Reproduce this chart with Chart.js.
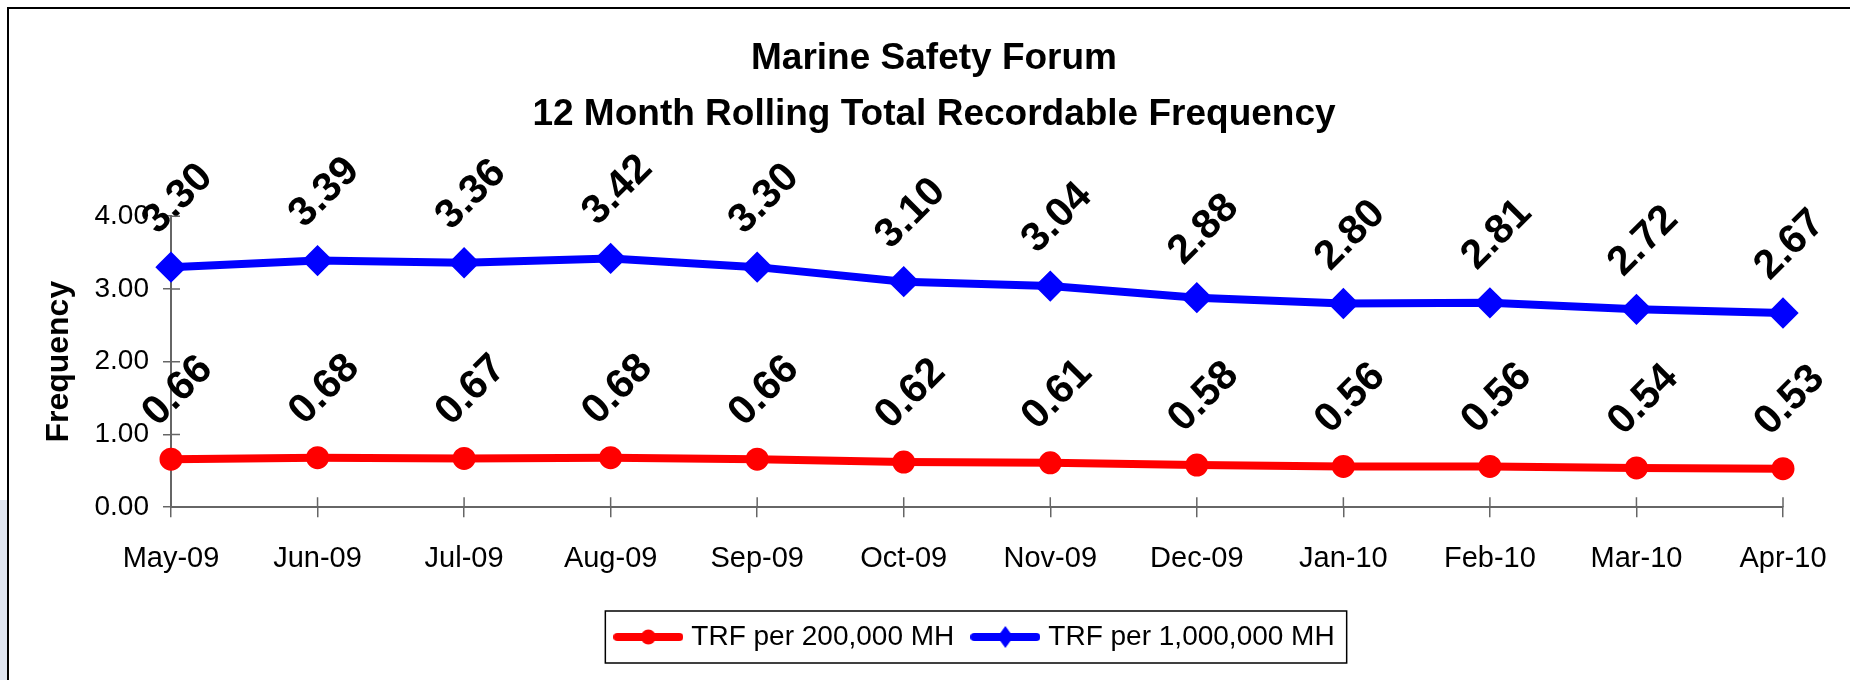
<!DOCTYPE html>
<html>
<head>
<meta charset="utf-8">
<script src="https://cdn.jsdelivr.net/npm/chart.js@4.4.1/dist/chart.umd.min.js"></script>
<style>
  body { margin: 0; background: #fff; }
  #wrap { position: relative; width: 1854px; height: 680px; overflow: hidden; }
  #frame { position: absolute; left: 7px; top: 7px; width: 1843px; height: 700px;
           border-top: 2px solid #000; border-left: 2px solid #000; box-sizing: border-box; }
  #shade { position: absolute; left: 0; top: 500px; width: 7px; height: 180px; background: #dfe5f0; }
  canvas { position: absolute; left: 0; top: 0; }
</style>
</head>
<body>
<div id="wrap">
  <div id="shade"></div>
  <div id="frame"></div>
  <canvas id="chart" width="1854" height="680"></canvas>
</div>
<script>
const months = ['May-09', 'Jun-09', 'Jul-09', 'Aug-09', 'Sep-09', 'Oct-09',
                'Nov-09', 'Dec-09', 'Jan-10', 'Feb-10', 'Mar-10', 'Apr-10'];
const trf200k = [0.66, 0.68, 0.67, 0.68, 0.66, 0.62, 0.61, 0.58, 0.56, 0.56, 0.54, 0.53];
const trf1m = [3.30, 3.39, 3.36, 3.42, 3.30, 3.10, 3.04, 2.88, 2.80, 2.81, 2.72, 2.67];
const yTicks = [0, 1, 2, 3, 4];

const FONT = '"Liberation Sans", Arial, sans-serif';

// legend symbol: line with marker in the middle
function legendSymbol(color, diamond) {
  const c = document.createElement('canvas');
  c.width = 70; c.height = 24;
  const g = c.getContext('2d');
  g.strokeStyle = color; g.fillStyle = color;
  g.lineWidth = 8; g.lineCap = 'round';
  g.beginPath(); g.moveTo(4, 12); g.lineTo(66, 12); g.stroke();
  g.beginPath();
  if (diamond) {
    g.moveTo(35, 1); g.lineTo(43, 12); g.lineTo(35, 23); g.lineTo(27, 12);
    g.closePath();
  } else {
    g.arc(35, 12, 7.5, 0, Math.PI * 2);
  }
  g.fill();
  return c;
}
const symbols = [legendSymbol('#ff0000', false), legendSymbol('#0000ff', true)];

const valueLabels = {
  id: 'valueLabels',
  afterDatasetsDraw(chart) {
    const ctx = chart.ctx;
    ctx.save();
    ctx.font = 'bold 41px ' + FONT;
    ctx.fillStyle = '#000';
    ctx.textAlign = 'center';
    ctx.textBaseline = 'middle';
    chart.data.datasets.forEach((ds, i) => {
      chart.getDatasetMeta(i).data.forEach((pt, j) => {
        ctx.save();
        ctx.translate(pt.x + 7, pt.y - 68);
        ctx.rotate(-Math.PI / 4);
        ctx.fillText(ds.data[j].toFixed(2), 0, 0);
        ctx.restore();
      });
    });
    ctx.restore();
  }
};

// tick marks that cross the axis lines
const innerTicks = {
  id: 'innerTicks',
  afterDraw(chart) {
    const { x, y } = chart.scales;
    const ctx = chart.ctx;
    ctx.save();
    ctx.strokeStyle = '#666';
    ctx.lineWidth = 1.5;
    ctx.beginPath();
    y.ticks.forEach((t, i) => {
      const py = y.getPixelForTick(i);
      ctx.moveTo(x.left, py); ctx.lineTo(x.left + 9, py);
    });
    x.ticks.forEach((t, i) => {
      const px = x.getPixelForTick(i);
      ctx.moveTo(px, y.bottom); ctx.lineTo(px, y.bottom - 10);
    });
    ctx.stroke();
    ctx.restore();
  }
};

const legendBorder = {
  id: 'legendBorder',
  afterDraw(chart) {
    const boxes = chart.legend.legendHitBoxes;
    if (!boxes || !boxes.length) return;
    const left = Math.min(...boxes.map(b => b.left)) - 14;
    const right = Math.max(...boxes.map(b => b.left + b.width)) + 12;
    const top = boxes[0].top - 12;
    const bottom = boxes[0].top + boxes[0].height + 12;
    const ctx = chart.ctx;
    ctx.save();
    ctx.strokeStyle = '#000';
    ctx.lineWidth = 1.5;
    ctx.strokeRect(left, top, right - left, bottom - top);
    ctx.restore();
  }
};

new Chart(document.getElementById('chart').getContext('2d'), {
  type: 'line',
  data: {
    labels: months,
    datasets: [{
      label: 'TRF per 200,000 MH',
      data: trf200k,
      borderColor: '#ff0000',
      backgroundColor: '#ff0000',
      borderWidth: 8,
      pointStyle: 'circle',
      pointRadius: 7.5,
      pointHoverRadius: 7.5,
      tension: 0
    }, {
      label: 'TRF per 1,000,000 MH',
      data: trf1m,
      borderColor: '#0000ff',
      backgroundColor: '#0000ff',
      borderWidth: 8,
      pointStyle: 'rectRot',
      pointRadius: 10,
      pointHoverRadius: 10,
      tension: 0
    }]
  },
  options: {
    responsive: false,
    animation: false,
    layout: { padding: { left: 14, right: 0, top: 0, bottom: 19 } },
    plugins: {
      title: {
        display: true,
        text: ['Marine Safety Forum', '12 Month Rolling Total Recordable Frequency'],
        color: '#000',
        font: { family: FONT, size: 37, weight: 'bold', lineHeight: 1.53 },
        padding: { top: 30, bottom: 73 }
      },
      legend: {
        position: 'bottom',
        fullSize: false,
        labels: {
          usePointStyle: true,
          pointStyleWidth: 58,
          color: '#000',
          font: { family: FONT, size: 28 },
          padding: 22,
          generateLabels(chart) {
            const items = Chart.defaults.plugins.legend.labels.generateLabels(chart);
            items.forEach((it, i) => { it.pointStyle = symbols[i]; });
            return items;
          }
        }
      },
      tooltip: { enabled: false }
    },
    scales: {
      x: {
        offset: false,
        grid: { drawOnChartArea: false, tickLength: 10, color: '#666', lineWidth: 1.5 },
        border: { color: '#666', width: 2 },
        ticks: { color: '#000', font: { family: FONT, size: 29 }, padding: 24, maxRotation: 0 },
        afterFit(scale) { scale.paddingRight = 71; scale.height += 1; }
      },
      y: {
        min: 0,
        max: 4,
        afterBuildTicks(scale) { scale.ticks = yTicks.map(v => ({ value: v })); },
        grid: { drawOnChartArea: false, tickLength: 8, color: '#666', lineWidth: 1.5 },
        border: { color: '#666', width: 2 },
        ticks: { color: '#000', font: { family: FONT, size: 28 }, padding: 14,
                 callback: v => Number(v).toFixed(2) },
        title: { display: true, text: 'Frequency', color: '#000',
                 font: { family: FONT, size: 32, weight: 'bold' }, padding: { top: 26, bottom: 0 } },
        afterFit(scale) { scale.width = 157; }
      }
    }
  },
  plugins: [valueLabels, innerTicks, legendBorder]
});
</script>
</body>
</html>
